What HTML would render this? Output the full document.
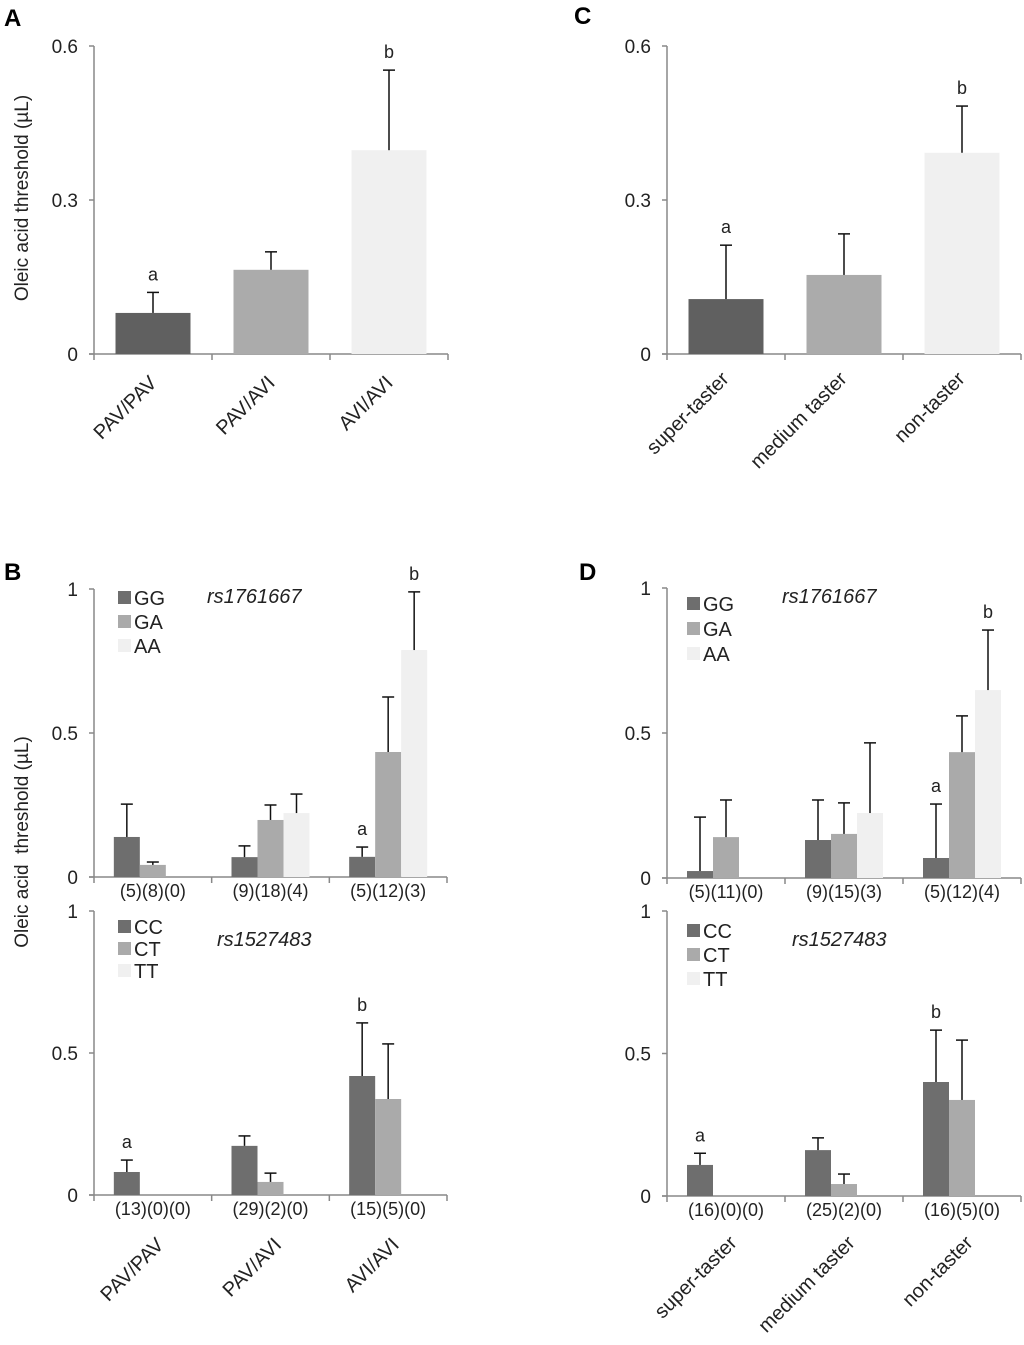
<!DOCTYPE html>
<html><head><meta charset="utf-8"><style>
body{margin:0;background:#fff}
svg{display:block;font-family:"Liberation Sans",Arial,sans-serif}
</style></head><body>
<svg id="fig" width="1024" height="1345" viewBox="0 0 1024 1345" xmlns="http://www.w3.org/2000/svg">
<text x="4" y="26" font-size="24" font-weight="bold">A</text>
<text x="574" y="24" font-size="24" font-weight="bold">C</text>
<text x="4" y="580" font-size="24" font-weight="bold">B</text>
<text x="579" y="580" font-size="24" font-weight="bold">D</text>
<text transform="translate(28,198) rotate(-90)" text-anchor="middle" font-size="19" fill="#222">Oleic acid threshold (µL)</text>
<text transform="translate(28,842) rotate(-90)" text-anchor="middle" font-size="19" fill="#222" xml:space="preserve">Oleic acid  threshold (µL)</text>
</svg>
<script>
// ---- data ----
const catsGeno = ["PAV/PAV","PAV/AVI","AVI/AVI"];
const catsTaster = ["super-taster","medium taster","non-taster"];
const aVals = [0.08,0.164,0.397];
const aErr = [0.12,0.199,0.553];
const cVals = [0.107,0.154,0.392];
const cErr = [0.212,0.234,0.483];
const bTopGG = [0.139,0.069,0.07], bTopGGErr=[0.253,0.108,0.104];
const bTopGA = [0.042,0.198,0.434], bTopGAErr=[0.052,0.25,0.625];
const bTopAA = [0,0.222,0.788], bTopAAErr=[0,0.288,0.99];
const bTopN = ["(5)(8)(0)","(9)(18)(4)","(5)(12)(3)"];
const bBotCC = [0.081,0.173,0.419], bBotCCErr=[0.123,0.208,0.606];
const bBotCT = [0,0.046,0.338], bBotCTErr=[0,0.077,0.532];
const bBotTT = [0,0,0];
const bBotN = ["(13)(0)(0)","(29)(2)(0)","(15)(5)(0)"];
const dTopGG = [0.024,0.131,0.069], dTopGGErr=[0.21,0.269,0.255];
const dTopGA = [0.141,0.152,0.434], dTopGAErr=[0.269,0.259,0.559];
const dTopAA = [0,0.224,0.648], dTopAAErr=[0,0.466,0.855];
const dTopN = ["(5)(11)(0)","(9)(15)(3)","(5)(12)(4)"];
const dBotCC = [0.109,0.161,0.4], dBotCCErr=[0.15,0.204,0.582];
const dBotCT = [0,0.042,0.337], dBotCTErr=[0,0.077,0.547];
const dBotTT = [0,0,0];
const dBotN = ["(16)(0)(0)","(25)(2)(0)","(16)(5)(0)"];
const ticksA = [0,0.3,0.6], ticksB=[0,0.5,1];
const tickLabA = ["0","0.3","0.6"], tickLabB=["0","0.5","1"];

const svg=document.getElementById('fig');
const NS="http://www.w3.org/2000/svg";
function mk(tag,attrs,name,txt){const e=document.createElementNS(NS,tag);for(const k in attrs)e.setAttribute(k,attrs[k]);


if(txt!==undefined)e.textContent=txt;svg.appendChild(e);return e;}
const COL=["#6e6e6e","#aaaaaa","#f0f0f0"];
const COLA=["#606060","#ababab","#f0f0f0"];
function panel(p){
  const y=v=>p.y0-(v/p.max)*(p.y0-p.y1);
  const gw=(p.x1-p.x0)/p.cats;
  mk('line',{x1:p.x0,y1:p.y1,x2:p.x0,y2:p.y0,stroke:"#888","stroke-width":1.5},p.id+'-y-axis');
  mk('line',{x1:p.x0-5,y1:p.y0,x2:p.x1,y2:p.y0,stroke:"#888","stroke-width":1.5},p.id+'-x-axis');
  p.ticks.forEach((t,i)=>{mk('line',{x1:p.x0-5,y1:y(t),x2:p.x0,y2:y(t),stroke:"#888","stroke-width":1.5},p.id+'-y-tick');
    mk('text',{x:p.x0-16,y:y(t)+7,"text-anchor":"end","font-size":19,fill:"#222"},p.id+'-y-tick-label',p.tickLab[i]);});
  for(let i=0;i<=p.cats;i++)mk('line',{x1:p.x0+i*gw,y1:p.y0,x2:p.x0+i*gw,y2:p.y0+6,stroke:"#888","stroke-width":1.5},p.id+'-x-tick');
  const ns=p.series.length, bw=p.bw;
  for(let g=0;g<p.cats;g++){
    const gx=p.x0+g*gw+(gw-ns*bw)/2;
    p.series.forEach((s,k)=>{const v=s.v[g];if(v<=0)return;const bx=gx+k*bw;
      mk('rect',{x:bx,y:y(v),width:bw,height:p.y0-y(v),fill:p.byGroup?COLA[g]:COL[k]},p.id+'-bar');
      const e=s.e[g];if(e>v){const cx=bx+bw/2;
        mk('line',{x1:cx,y1:y(v),x2:cx,y2:y(e),stroke:"#111","stroke-width":1.5},p.id+'-error-bar');
        mk('line',{x1:cx-6,y1:y(e),x2:cx+6,y2:y(e),stroke:"#111","stroke-width":1.5},p.id+'-error-cap');}
    });
    if(p.n)mk('text',{x:p.x0+g*gw+gw/2,y:p.y0+20,"text-anchor":"middle","font-size":18,fill:"#222"},p.id+'-n-label',p.n[g]);
  }
  (p.sig||[]).forEach(sg=>{const gx=p.x0+sg.g*gw+(gw-ns*bw)/2+sg.k*bw+bw/2;
    mk('text',{x:gx,y:y(p.series[sg.k].e[sg.g])-12,"text-anchor":"middle","font-size":18,fill:"#222"},p.id+'-sig-letter',sg.t);});
  if(p.labels)p.labels.forEach((l,g)=>{const cx=p.x0+g*gw+gw/2+p.lx, cy=p.ly;
    mk('text',{transform:`translate(${cx},${cy}) rotate(-45)`,"text-anchor":"end","font-size":20,fill:"#222"},p.id+'-category-label',l);});
  if(p.legend){p.legend.names.forEach((n,k)=>{
    mk('rect',{x:p.legend.x,y:p.legend.y+k*p.legend.dy-12,width:13,height:13,fill:COL[k]},p.id+'-legend-swatch');
    mk('text',{x:p.legend.x+16,y:p.legend.y+k*p.legend.dy+2,"font-size":20,fill:"#222"},p.id+'-legend-label',n);});
    mk('text',{x:p.legend.rx,y:p.legend.ry,"font-size":20,"font-style":"italic",fill:"#222"},p.id+'-snp-title',p.legend.rs);}
}
function singleSeries(vals,errs){return [{v:vals,e:errs}];}
panel({id:'a',x0:94,x1:448,y0:354,y1:46,max:0.6,cats:3,bw:75,ticks:ticksA,tickLab:tickLabA,byGroup:true,
  series:singleSeries(aVals,aErr),labels:catsGeno,lx:5,ly:384,sig:[{g:0,k:0,t:'a'},{g:2,k:0,t:'b'}]});
panel({id:'c',x0:667,x1:1021,y0:354,y1:46,max:0.6,cats:3,bw:75,ticks:ticksA,tickLab:tickLabA,byGroup:true,
  series:singleSeries(cVals,cErr),labels:catsTaster,lx:4,ly:380,sig:[{g:0,k:0,t:'a'},{g:2,k:0,t:'b'}]});
panel({id:'b-top',x0:94,x1:447,y0:877,y1:589,max:1,cats:3,bw:26,ticks:ticksB,tickLab:tickLabB,
  series:[{v:bTopGG,e:bTopGGErr},{v:bTopGA,e:bTopGAErr},{v:bTopAA,e:bTopAAErr}],n:bTopN,
  sig:[{g:2,k:0,t:'a'},{g:2,k:2,t:'b'}],legend:{names:["GG","GA","AA"],x:118,y:603,dy:24,rs:"rs1761667",rx:207,ry:603}});
panel({id:'b-bottom',x0:94,x1:447,y0:1195,y1:911,max:1,cats:3,bw:26,ticks:ticksB,tickLab:tickLabB,
  series:[{v:bBotCC,e:bBotCCErr},{v:bBotCT,e:bBotCTErr},{v:bBotTT,e:bBotTT}],n:bBotN,
  sig:[{g:0,k:0,t:'a'},{g:2,k:0,t:'b'}],labels:catsGeno,lx:12,ly:1246,
  legend:{names:["CC","CT","TT"],x:118,y:932,dy:22,rs:"rs1527483",rx:217,ry:946}});
panel({id:'d-top',x0:667,x1:1021,y0:878,y1:588,max:1,cats:3,bw:26,ticks:ticksB,tickLab:tickLabB,
  series:[{v:dTopGG,e:dTopGGErr},{v:dTopGA,e:dTopGAErr},{v:dTopAA,e:dTopAAErr}],n:dTopN,
  sig:[{g:2,k:0,t:'a'},{g:2,k:2,t:'b'}],legend:{names:["GG","GA","AA"],x:687,y:609,dy:25,rs:"rs1761667",rx:782,ry:603}});
panel({id:'d-bottom',x0:667,x1:1021,y0:1196,y1:911,max:1,cats:3,bw:26,ticks:ticksB,tickLab:tickLabB,
  series:[{v:dBotCC,e:dBotCCErr},{v:dBotCT,e:dBotCTErr},{v:dBotTT,e:dBotTT}],n:dBotN,
  sig:[{g:0,k:0,t:'a'},{g:2,k:0,t:'b'}],labels:catsTaster,lx:12,ly:1244,
  legend:{names:["CC","CT","TT"],x:687,y:936,dy:24,rs:"rs1527483",rx:792,ry:946}});
</script>
</body></html>
